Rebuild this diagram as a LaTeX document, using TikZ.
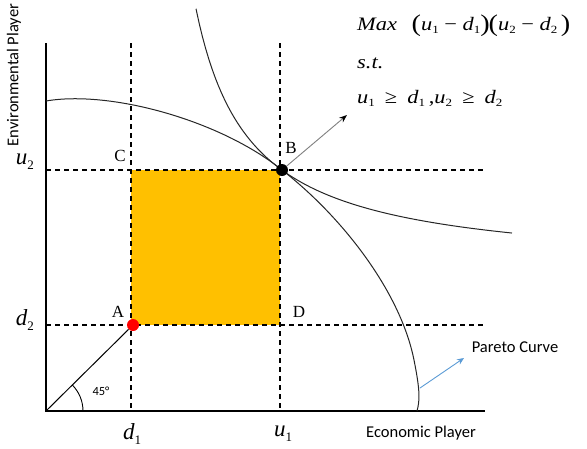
\documentclass[tikz,border=0pt]{standalone}
\usepackage{fontspec}
\setmainfont{Liberation Serif}
\newfontfamily\calib{Carlito}
\usetikzlibrary{arrows.meta}
\definecolor{gold}{RGB}{255,192,0}
\definecolor{arrblue}{RGB}{91,155,213}
\newcommand\lo[1]{\raisebox{-0.45ex}{\fontsize{11}{11}\selectfont\upshape #1}}
\newcommand\blo[1]{\raisebox{-0.45ex}{\fontsize{13}{13}\selectfont\upshape #1}}
\newcommand\bp[1]{\raisebox{-0.08em}{\fontsize{24}{24}\selectfont #1}}
\begin{document}
\begin{tikzpicture}[x=1pt,y=-1pt,
  axis/.style={line width=2.2pt, line join=miter},
  guide/.style={line width=1.2pt, dash pattern=on 5pt off 4pt},
  curve/.style={line width=1.0pt, black!85},
  lbl/.style={font=\fontsize{17}{17}\selectfont, inner sep=0pt},
  mlab/.style={font=\fontsize{23}{23}\selectfont\itshape, inner sep=0pt},
  sans/.style={font=\calib\fontsize{16.5}{17}\selectfont, inner sep=0pt},
  frm/.style={font=\fontsize{19}{19}\selectfont, inner sep=0pt, anchor=base west},
  dot/.style={circle, inner sep=0pt, minimum size=12pt}]
\useasboundingbox (0,0) rectangle (587,448);
% orange region
\fill[gold] (131,170) rectangle (280,325);
% guides
\coordinate (d1top) at (131,43);
\coordinate (d1bot) at (131,411);
\coordinate (u1top) at (280,43);
\coordinate (u1bot) at (280,411);
\coordinate (u2l) at (46,170);
\coordinate (u2r) at (485,170);
\coordinate (d2l) at (46,325);
\coordinate (d2r) at (485,325);
\draw[guide] (d1top) -- (d1bot);
\draw[guide] (u1top) -- (u1bot);
\draw[guide] (u2l) -- (u2r);
\draw[guide] (d2l) -- (d2r);
% axes
\coordinate (O) at (46,411);
\coordinate (Ytop) at (46,43);
\coordinate (Xend) at (485,411);
\draw[axis] (Ytop) -- (O) -- (Xend);
% indifference curve (hyperbola)
\draw[curve] plot[domain=196:512, samples=100] (\x, {271.35 - 14180/(\x-142)});
% pareto curve
\draw[curve] (46,101) .. controls (110,90) and (220,120) .. (282,170)
  .. controls (340,215) and (400,290) .. (414,360)
  .. controls (420,390) and (420,400) .. (417,411);
% 45 degree line
\node[dot, fill=red] (A) at (133,325) {};
\draw[line width=1pt] (O) -- (A);
\draw[line width=0.9pt] (O) ++(37,0) arc[start angle=0, end angle=-45, radius=37];
\node[sans, font=\calib\fontsize{12.5}{12.5}\selectfont] (deg) at (101,391) {45°};
% point B and arrow
\node[dot, fill=black] (B) at (282,170) {};
\coordinate (Btip) at (347,115);
\draw[gray, line width=0.9pt, -{Stealth[black, length=8pt, width=6pt]}] (B) -- (Btip);
% pareto arrow
\coordinate (pa) at (420,388);
\coordinate (pb) at (464,358);
\draw[arrblue, line width=0.9pt, -{Stealth[length=7pt, width=6pt]}] (pa) -- (pb);
% letters
\node[lbl] (lC) at (120,156) {C};
\node[lbl] (lB) at (291,148) {B};
\node[lbl] (lA) at (118,312) {A};
\node[lbl] (lD) at (299,312) {D};
% axis labels
\node[mlab] (lu2) at (25,162) {u\blo{2}};
\node[mlab] (ld2) at (25,320) {d\blo{2}};
\node[mlab] (ld1) at (132,434) {d\blo{1}};
\node[mlab] (lu1) at (283,434) {u\blo{1}};
\node[sans, rotate=90] (ey) at (14,75) {Environmental Player};
\node[sans] (ex) at (421,433) {Economic Player};
\node[sans] (pc) at (515,347) {Pareto Curve};
% formula
\node[frm] (f1) at (357,30) {\scalebox{1.18}[1]{\textit{Max}\hspace{0.65em}\bp{(}\textit{u}\lo{1}\hspace{0.25em}−\hspace{0.25em}\textit{d}\lo{1}\bp{)}\kern-0.05em\bp{(}\textit{u}\lo{2}\hspace{0.25em}−\hspace{0.25em}\textit{d}\lo{2}\hspace{0.15em}\bp{)}}};
\node[frm] (f2) at (357,68) {\scalebox{1.18}[1]{\textit{s.t.}}};
\node[frm] (f3) at (357,103) {\scalebox{1.18}[1]{\textit{u}\lo{1}\hspace{0.45em}≥\hspace{0.45em}\textit{d}\lo{1}\,,\textit{u}\lo{2}\hspace{0.45em}≥\hspace{0.45em}\textit{d}\lo{2}}};
\end{tikzpicture}
\end{document}
